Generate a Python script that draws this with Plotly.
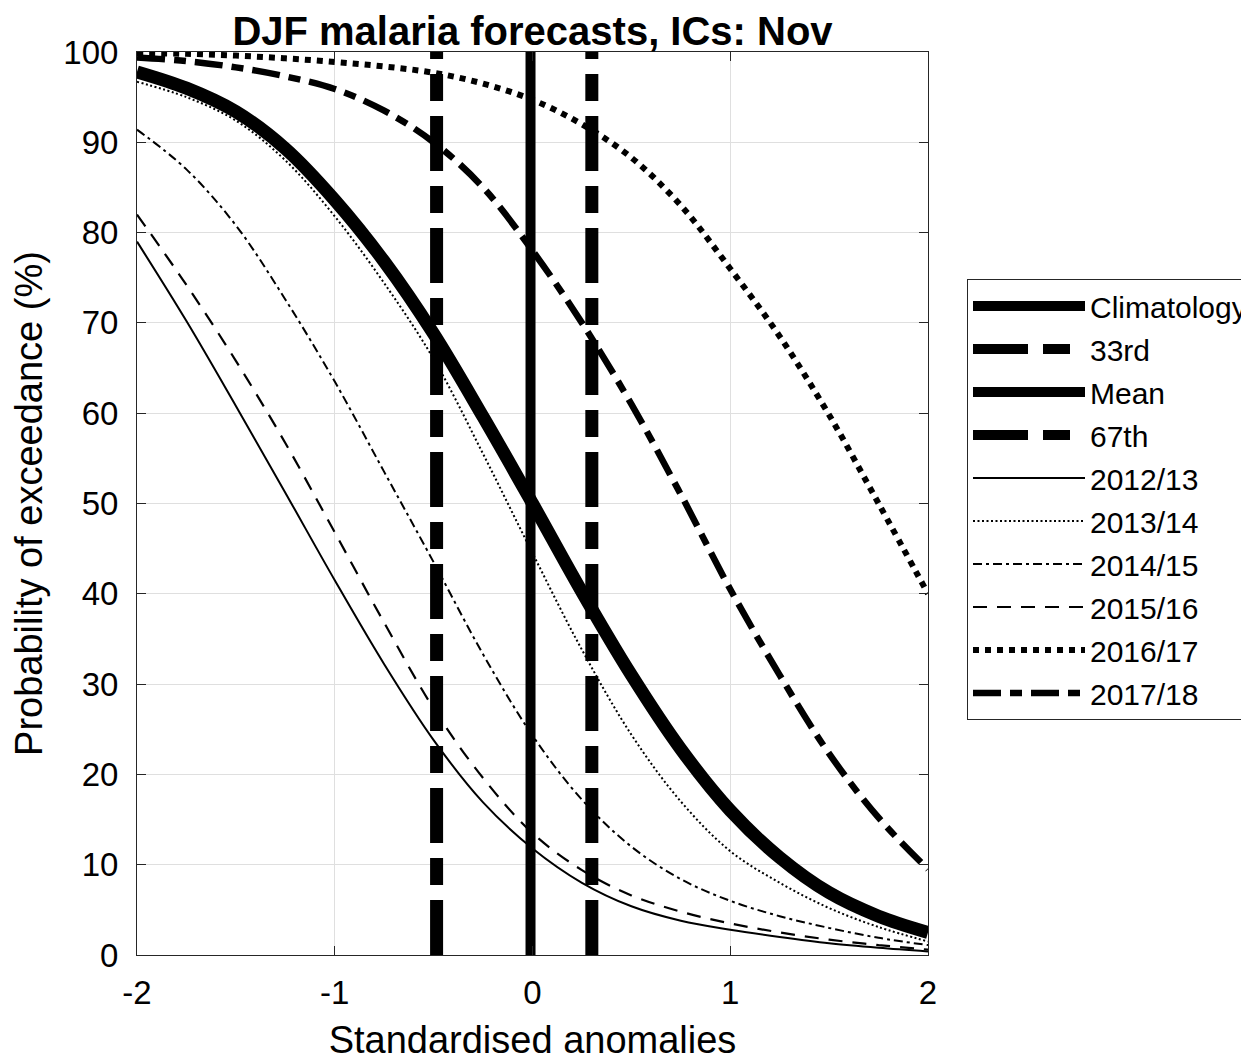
import plotly.graph_objects as go

# ---- data ----
x_anom = [-2.0, -1.75, -1.5, -1.25, -1.0, -0.75, -0.5, -0.25, 0.0,
          0.25, 0.5, 0.75, 1.0, 1.25, 1.5, 1.75, 2.0]

climatology = [97.8, 96.0, 93.4, 89.3, 83.6, 76.8, 68.8, 59.6, 50.0,
               40.2, 31.0, 22.8, 16.0, 10.8, 6.9, 4.3, 2.5]
y2012_13 = [79.0, 70.2, 60.8, 51.2, 41.5, 32.2, 23.8, 16.9, 11.8,
            8.0, 5.4, 3.8, 2.8, 2.0, 1.3, 0.8, 0.4]
y2013_14 = [96.7, 95.0, 92.4, 88.0, 81.8, 74.4, 66.0, 55.5, 44.5,
            33.8, 24.4, 17.0, 11.5, 8.0, 5.2, 3.1, 1.5]
y2014_15 = [91.4, 87.0, 80.8, 72.6, 63.5, 53.5, 43.5, 33.3, 24.3,
            17.2, 12.0, 8.4, 6.0, 4.3, 3.0, 1.9, 1.1]
y2015_16 = [82.0, 74.2, 65.8, 56.7, 46.8, 36.8, 27.3, 19.6, 13.5,
            9.4, 6.6, 4.8, 3.5, 2.5, 1.7, 1.1, 0.6]
y2016_17 = [99.9, 99.8, 99.6, 99.3, 98.9, 98.4, 97.7, 96.5, 94.7,
            92.0, 88.3, 83.0, 76.0, 68.5, 59.8, 50.0, 40.0]
y2017_18 = [99.4, 99.0, 98.3, 97.3, 95.9, 93.5, 90.0, 85.0, 78.0,
            70.0, 61.0, 51.0, 40.5, 31.0, 22.3, 15.2, 9.5]

tercile_33rd = -0.485
mean_anom = -0.01
tercile_67th = 0.30
vline_y = [0, 100]

x_ticks = [-2, -1, 0, 1, 2]
y_ticks = [0, 10, 20, 30, 40, 50, 60, 70, 80, 90, 100]

FONT = "Liberation Sans, Arial, Helvetica, sans-serif"
BLACK = "black"

fig = go.Figure()

def add(name, xs, ys, width, dash):
    fig.add_trace(go.Scatter(
        x=xs, y=ys, mode="lines", name=name, legendgroup=name,
        line=dict(color=BLACK, width=width, dash=dash, shape="spline", smoothing=1.0),
        hoverinfo="skip"))

add("Climatology", x_anom, climatology, 13, "solid")
fig.add_trace(go.Scatter(x=[tercile_33rd, tercile_33rd], y=vline_y, mode="lines",
                         name="33rd", legendgroup="33rd", hoverinfo="skip",
                         line=dict(color=BLACK, width=13, dash="55px,15px,27px,15px")))
fig.add_trace(go.Scatter(x=[mean_anom, mean_anom], y=vline_y, mode="lines",
                         name="Mean", legendgroup="Mean", hoverinfo="skip",
                         line=dict(color=BLACK, width=10, dash="solid")))
fig.add_trace(go.Scatter(x=[tercile_67th, tercile_67th], y=vline_y, mode="lines",
                         name="67th", legendgroup="67th", hoverinfo="skip",
                         line=dict(color=BLACK, width=13, dash="55px,15px,27px,15px")))
add("2012/13", x_anom, y2012_13, 2, "solid")
add("2013/14", x_anom, y2013_14, 2, "2px,2.5px")
add("2014/15", x_anom, y2014_15, 2, "9px,4px,3px,4px")
add("2015/16", x_anom, y2015_16, 2.2, "14px,10px")
add("2016/17", x_anom, y2016_17, 6, "6px,6px")
add("2017/18", x_anom, y2017_18, 6.5, "28px,9px,12px,9px")

axis_common = dict(
    showline=True, linecolor="#262626", linewidth=1, mirror="ticks",
    ticks="inside", ticklen=9, tickwidth=1, tickcolor="#262626",
    showgrid=True, gridcolor="#dfdfdf", gridwidth=1, zeroline=False,
    tickfont=dict(family=FONT, size=33, color=BLACK),
)

# page body has an 8px margin, so the figure is 8px smaller than the window
W, H = 1241, 1053
fig.update_layout(
    width=W, height=H,
    margin=dict(l=129, r=W - 920, t=44, b=H - 947, autoexpand=False),
    paper_bgcolor="white", plot_bgcolor="white",
    font=dict(family=FONT, color=BLACK),
    title=dict(text="<b>DJF malaria forecasts, ICs: Nov</b>",
               font=dict(family=FONT, size=40, color=BLACK),
               x=0.5, xref="paper", xanchor="center",
               y=1 - 23 / H, yref="container", yanchor="middle"),
    xaxis=dict(range=[-2, 2], tickvals=x_ticks, ticktext=[str(v) for v in x_ticks],
               ticklabelstandoff=8,
               title=dict(text="Standardised anomalies", standoff=18,
                          font=dict(family=FONT, size=38, color=BLACK)),
               **axis_common),
    yaxis=dict(range=[0, 100], tickvals=y_ticks, ticktext=[str(v) for v in y_ticks],
               ticklabelstandoff=11,
               title=dict(text="Probability of exceedance (%)", standoff=14,
                          font=dict(family=FONT, size=38, color=BLACK)),
               **axis_common),
    showlegend=True,
    legend=dict(x=(959 - 129) / 791, xanchor="left", y=(947 - 271) / 903, yanchor="top",
                bgcolor="white", bordercolor="#262626", borderwidth=1,
                font=dict(family=FONT, size=30, color=BLACK),
                itemwidth=112, tracegroupgap=1, traceorder="grouped"),
)

fig.write_html("out.html")
